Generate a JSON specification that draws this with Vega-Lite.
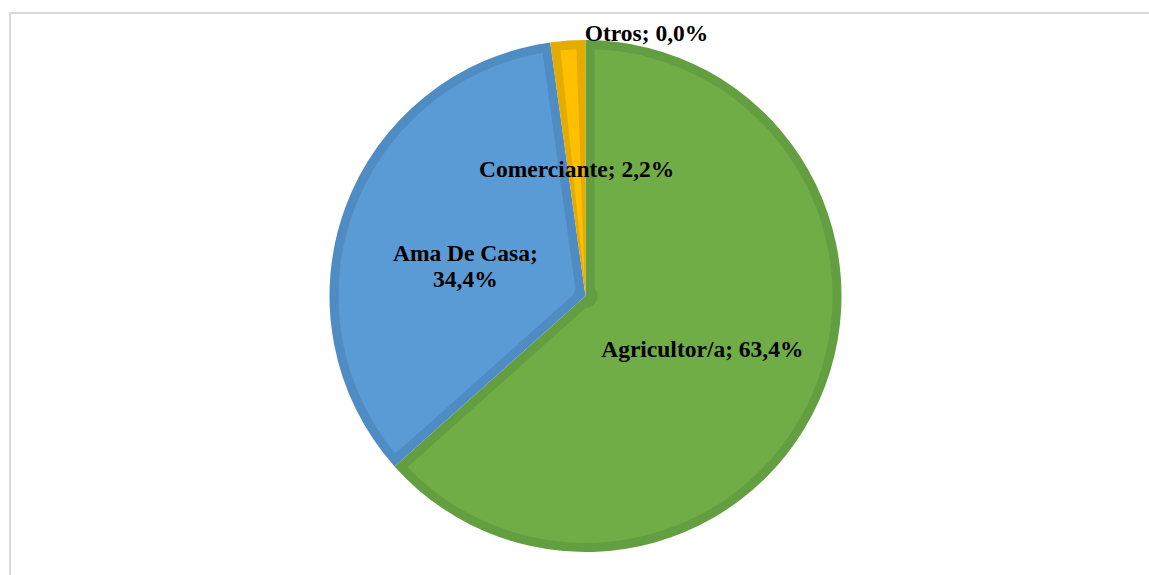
{
  "$schema": "https://vega.github.io/schema/vega-lite/v6.json",
  "autosize": {"type": "none"},
  "width": 1151,
  "height": 566,
  "padding": {"left": 10, "top": 13, "right": 0, "bottom": 0},
  "background": "white",
  "view": {"stroke": "#d9d9d9", "strokeWidth": 2},
  "config": {"view": {"stroke": "#d9d9d9", "strokeWidth": 2}},
  "data": {
    "values": [
      {"cat": "Agricultor/a", "valor": 63.4, "orden": 1, "label": "Agricultor/a; 63,4%"},
      {"cat": "Ama De Casa", "valor": 34.4, "orden": 2, "label": "Ama De Casa;\n34,4%"},
      {"cat": "Comerciante", "valor": 2.2, "orden": 3, "label": "Comerciante; 2,2%"},
      {"cat": "Otros", "valor": 0.0, "orden": 4, "label": "Otros; 0,0%"}
    ]
  },
  "layer": [
    {
      "data": {"values": [{"frame": 1}]},
      "mark": {"type": "rect", "fill": null, "fillOpacity": 0, "stroke": "#d9d9d9", "strokeWidth": 2},
      "encoding": {}
    },
    {
      "mark": {"type": "arc", "radius": 256},
      "encoding": {
        "theta": {"field": "valor", "type": "quantitative", "stack": true},
        "order": {"field": "orden", "type": "quantitative"},
        "color": {
          "field": "cat", "type": "nominal", "legend": null,
          "scale": {"domain": ["Agricultor/a", "Ama De Casa", "Comerciante", "Otros"],
                    "range": ["#639e41", "#4f8cc4", "#e4ab00", "#8f8f8f"]}
        }
      }
    },
    {
      "mark": {"type": "arc", "radius": 247, "radius2": 12, "padAngle": 0.073},
      "encoding": {
        "theta": {"field": "valor", "type": "quantitative", "stack": true},
        "order": {"field": "orden", "type": "quantitative"},
        "color": {
          "field": "cat", "type": "nominal", "legend": null,
          "scale": {"domain": ["Agricultor/a", "Ama De Casa", "Comerciante", "Otros"],
                    "range": ["#70ad47", "#5b9bd5", "#ffc000", "#a5a5a5"]}
        }
      }
    },
    {
      "transform": [{"filter": "datum.cat != 'Otros'"}],
      "mark": {"type": "text", "radius": 128, "dy": 2, "font": "Liberation Serif", "fontWeight": "bold", "fontSize": 23.5, "color": "black", "lineBreak": "\n", "lineHeight": 26, "baseline": "middle", "align": "center"},
      "encoding": {
        "theta": {"field": "valor", "type": "quantitative", "stack": true},
        "order": {"field": "orden", "type": "quantitative"},
        "text": {"field": "label"}
      }
    },
    {
      "transform": [{"filter": "datum.cat == 'Otros'"}],
      "mark": {"type": "text", "radius": 263, "dx": 61, "dy": 1, "font": "Liberation Serif", "fontWeight": "bold", "fontSize": 23.5, "color": "black", "baseline": "middle", "align": "center"},
      "encoding": {
        "theta": {"field": "valor", "type": "quantitative", "stack": true},
        "order": {"field": "orden", "type": "quantitative"},
        "text": {"field": "label"}
      }
    }
  ],
  "resolve": {"scale": {"color": "independent"}}
}
